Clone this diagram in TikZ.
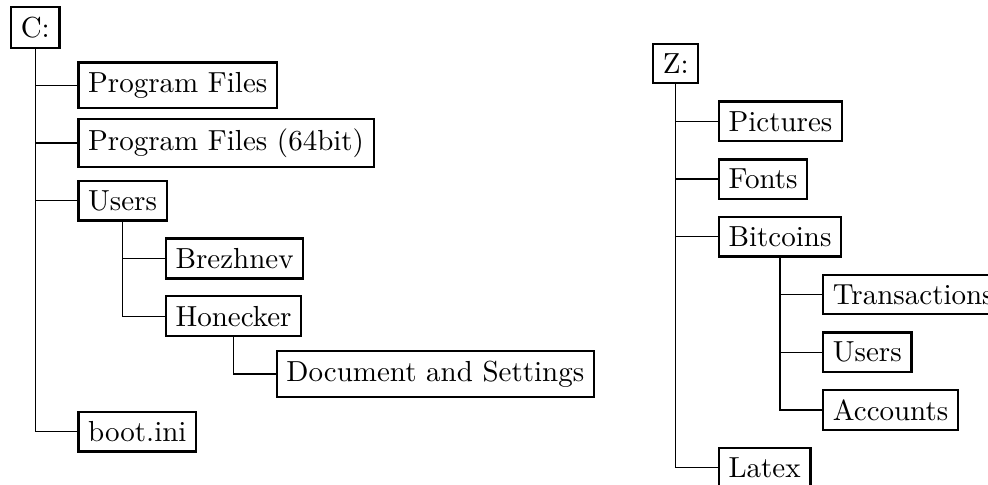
\documentclass[tikz,border=0pt]{standalone}
\usepackage{amsmath}
\usepackage{tikz}
\usetikzlibrary{calc,positioning}

\begin{document}
\begin{tikzpicture}[folder/.style={draw=black, thick, anchor=west}]
        \useasboundingbox (0,0) rectangle (11.976,-5.867);
        \node[folder] (c) at (0.121,-0.333) {C:};
        \node[folder] (pf) at ($(c)+(0.51,-0.7)$) {Program Files};
        \node[folder] (pfsf) at ($(c)+(0.51,-1.4)$) {Program Files (64bit)};
        \node[folder] (users) at ($(c)+(0.51,-2.1)$) {Users};
        \node[folder] (brezhnev) at ($(users)+(0.51,-0.7)$) {Brezhnev};
        \node[folder] (honecker) at ($(users)+(0.51,-1.4)$) {Honecker};
        \node[folder] (docs) at ($(honecker)+(0.51,-0.7)$) {Document and Settings};
        \node[folder] (boot) at ($(c)+(0.51,-4.9)$) {boot.ini};
        \draw (c.south) |- (pf.west);
        \draw (c.south) |- (pfsf.west);
        \draw (c.south) |- (users.west);
        \draw (c.south) |- (boot.west);
        \draw (users.south) |- (brezhnev.west);
        \draw (users.south) |- (honecker.west);
        \draw (honecker.south) |- (docs.west);
        \node[folder] (z) at (7.903,-0.770) {Z:};
        \node[folder] (pics) at ($(z)+(0.51,-0.7)$) {Pictures};
        \node[folder] (fonts) at ($(z)+(0.51,-1.4)$) {Fonts};
        \node[folder] (bitcoins) at ($(z)+(0.51,-2.1)$) {Bitcoins};
        \node[folder] (trans) at ($(bitcoins)+(0.51,-0.7)$) {Transactions};
        \node[folder] (zusers) at ($(bitcoins)+(0.51,-1.4)$) {Users};
        \node[folder] (accounts) at ($(bitcoins)+(0.51,-2.1)$) {Accounts};
        \node[folder] (latex) at ($(z)+(0.51,-4.9)$) {Latex};
        \draw (z.south) |- (pics.west);
        \draw (z.south) |- (fonts.west);
        \draw (z.south) |- (bitcoins.west);
        \draw (z.south) |- (latex.west);
        \draw (bitcoins.south) |- (trans.west);
        \draw (bitcoins.south) |- (zusers.west);
        \draw (bitcoins.south) |- (accounts.west);
\end{tikzpicture}
\end{document}
